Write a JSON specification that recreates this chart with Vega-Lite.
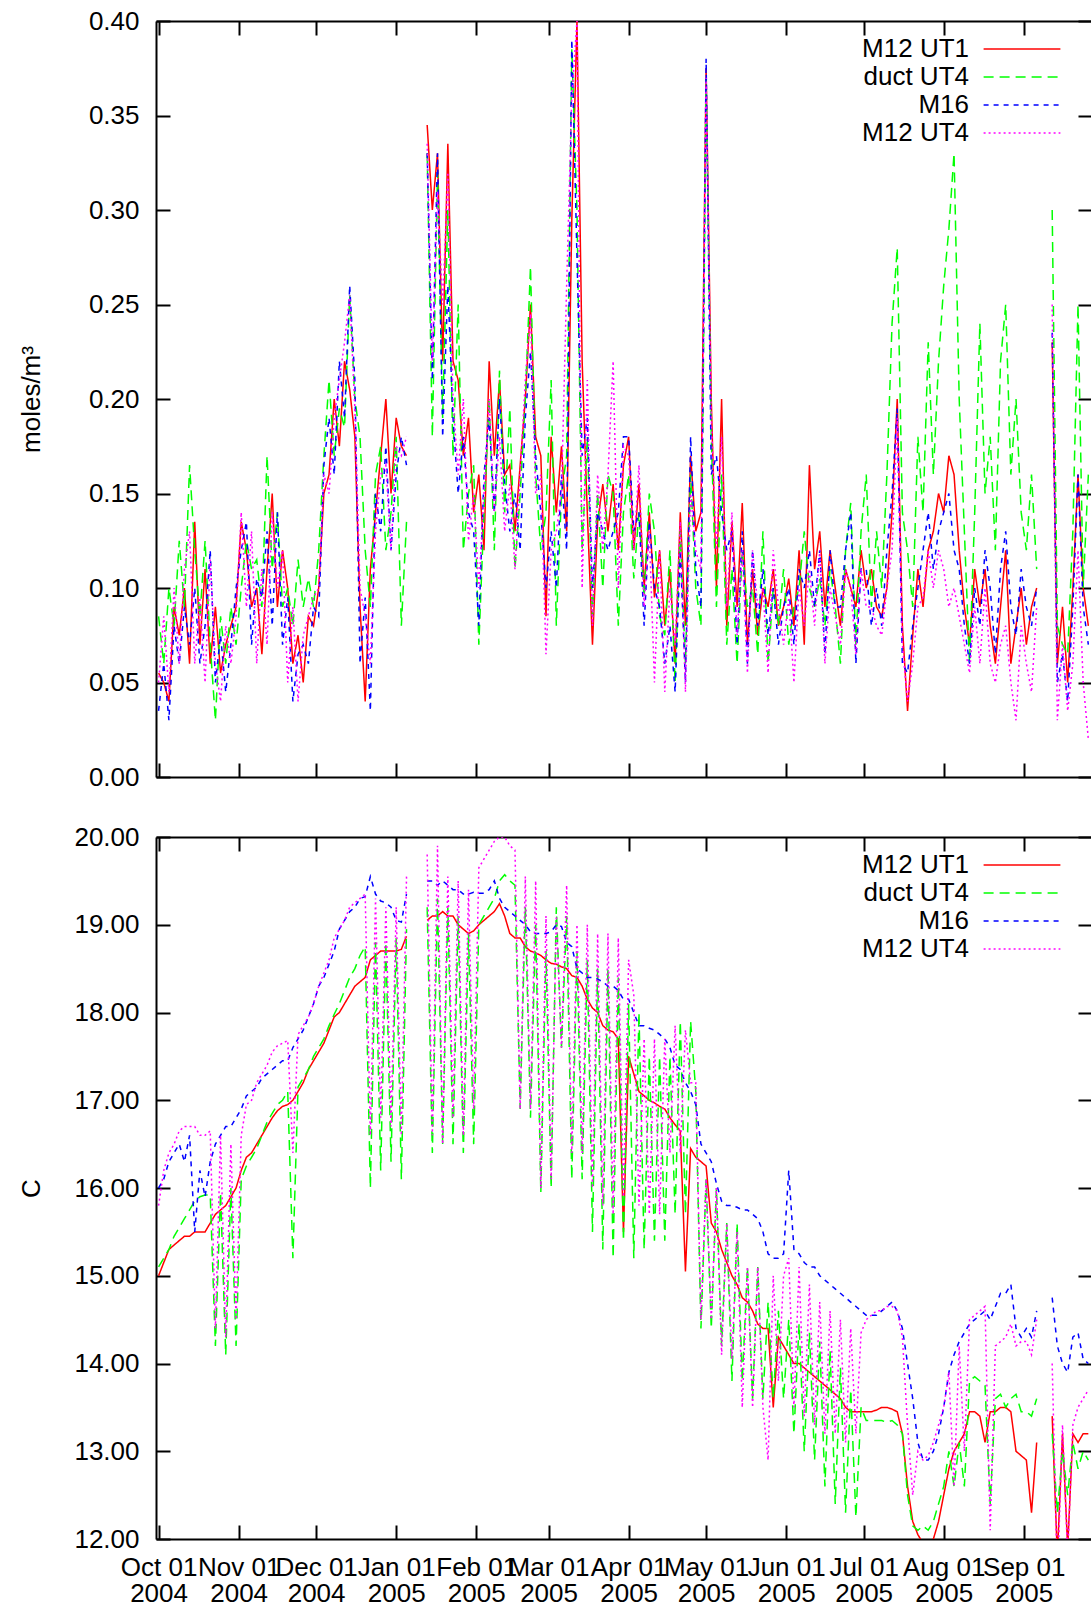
{
  "$schema": "https://vega.github.io/schema/vega-lite/v6.json",
  "padding": {"left": 18, "top": 8, "right": 0, "bottom": 0},
  "spacing": 34,
  "config": {
    "font": "Liberation Sans",
    "view": {"stroke": null},
    "axis": {"labelFont": "Liberation Sans", "labelFontSize": 26, "labelColor": "#000", "titleFont": "Liberation Sans", "titleFontSize": 26, "titleFontWeight": "normal", "titleColor": "#000", "domainColor": "#000", "domainWidth": 2, "tickColor": "#000", "tickWidth": 2, "tickSize": -14, "grid": false, "labelOverlap": false, "labelBound": false, "labelFlush": false},
    "legend": {"labelFont": "Liberation Sans", "labelFontSize": 26, "labelColor": "#000", "labelLimit": 0}
  },
  "datasets": {
    "top": [
      {"d":"2004-10-01","r":0.055,"g":0.085,"b":0.035,"m":0.05},
      {"d":"2004-10-03","r":0.05,"g":0.06,"b":0.06,"m":0.085},
      {"d":"2004-10-05","r":0.04,"g":0.1,"b":0.03,"m":0.045},
      {"d":"2004-10-07","r":0.09,"g":0.08,"b":0.08,"m":0.1},
      {"d":"2004-10-09","r":0.075,"g":0.125,"b":0.06,"m":0.06},
      {"d":"2004-10-11","r":0.1,"g":0.09,"b":0.09,"m":0.11},
      {"d":"2004-10-13","r":0.06,"g":0.165,"b":0.07,"m":0.13},
      {"d":"2004-10-15","r":0.135,"g":0.12,"b":0.1,"m":0.06},
      {"d":"2004-10-17","r":0.07,"g":0.085,"b":0.06,"m":0.095},
      {"d":"2004-10-19","r":0.11,"g":0.125,"b":0.08,"m":0.05},
      {"d":"2004-10-21","r":0.06,"g":0.07,"b":0.12,"m":0.115},
      {"d":"2004-10-23","r":0.09,"g":0.03,"b":0.05,"m":0.06},
      {"d":"2004-10-25","r":0.055,"g":0.085,"b":0.075,"m":0.04},
      {"d":"2004-10-27","r":0.07,"g":0.06,"b":0.045,"m":0.08},
      {"d":"2004-10-29","r":0.08,"g":0.09,"b":0.07,"m":0.06},
      {"d":"2004-10-31","r":0.09,"g":0.07,"b":0.1,"m":0.085},
      {"d":"2004-11-02","r":0.135,"g":0.1,"b":0.12,"m":0.14},
      {"d":"2004-11-04","r":0.12,"g":0.125,"b":0.135,"m":0.09},
      {"d":"2004-11-06","r":0.09,"g":0.11,"b":0.07,"m":0.13},
      {"d":"2004-11-08","r":0.1,"g":0.115,"b":0.105,"m":0.06},
      {"d":"2004-11-10","r":0.065,"g":0.09,"b":0.095,"m":0.11},
      {"d":"2004-11-12","r":0.11,"g":0.17,"b":0.13,"m":0.07},
      {"d":"2004-11-14","r":0.15,"g":0.11,"b":0.08,"m":0.14},
      {"d":"2004-11-16","r":0.09,"g":0.14,"b":0.14,"m":0.1},
      {"d":"2004-11-18","r":0.12,"g":0.09,"b":0.07,"m":0.12},
      {"d":"2004-11-20","r":0.1,"g":0.1,"b":0.095,"m":0.05},
      {"d":"2004-11-22","r":0.06,"g":0.08,"b":0.04,"m":0.09},
      {"d":"2004-11-24","r":0.075,"g":0.115,"b":0.065,"m":0.04},
      {"d":"2004-11-26","r":0.05,"g":0.09,"b":0.07,"m":0.075},
      {"d":"2004-11-28","r":0.085,"g":0.105,"b":0.06,"m":0.085},
      {"d":"2004-11-30","r":0.08,"g":0.09,"b":0.09,"m":0.095},
      {"d":"2004-12-02","r":0.1,"g":0.12,"b":0.085,"m":0.1},
      {"d":"2004-12-04","r":0.15,"g":0.17,"b":0.165,"m":0.16},
      {"d":"2004-12-06","r":0.16,"g":0.21,"b":0.19,"m":0.15},
      {"d":"2004-12-08","r":0.2,"g":0.17,"b":0.16,"m":0.19},
      {"d":"2004-12-10","r":0.175,"g":0.195,"b":0.22,"m":0.21},
      {"d":"2004-12-12","r":0.22,"g":0.185,"b":0.19,"m":0.23},
      {"d":"2004-12-14","r":0.205,"g":0.255,"b":0.26,"m":0.255},
      {"d":"2004-12-16","r":0.18,"g":0.2,"b":0.21,"m":0.195},
      {"d":"2004-12-18","r":0.09,"g":0.18,"b":0.06,"m":0.1},
      {"d":"2004-12-20","r":0.04,"g":0.12,"b":0.095,"m":0.085},
      {"d":"2004-12-22","r":0.11,"g":0.09,"b":0.035,"m":0.06},
      {"d":"2004-12-24","r":0.14,"g":0.16,"b":0.15,"m":0.13},
      {"d":"2004-12-26","r":0.17,"g":0.175,"b":0.13,"m":0.16},
      {"d":"2004-12-28","r":0.2,"g":0.12,"b":0.175,"m":0.165},
      {"d":"2004-12-30","r":0.15,"g":0.14,"b":0.12,"m":0.12},
      {"d":"2005-01-01","r":0.19,"g":0.18,"b":0.16,"m":0.175},
      {"d":"2005-01-03","r":0.175,"g":0.08,"b":0.18,"m":0.17},
      {"d":"2005-01-05","r":0.17,"g":0.135,"b":0.165,"m":0.18},
      {"d":"2005-01-07","r":null,"g":null,"b":null,"m":null},
      {"d":"2005-01-09","r":null,"g":null,"b":null,"m":null},
      {"d":"2005-01-11","r":null,"g":null,"b":null,"m":null},
      {"d":"2005-01-13","r":0.345,"g":0.33,"b":0.33,"m":0.335},
      {"d":"2005-01-15","r":0.3,"g":0.18,"b":0.21,"m":0.22},
      {"d":"2005-01-17","r":0.33,"g":0.32,"b":0.33,"m":0.31},
      {"d":"2005-01-19","r":0.22,"g":0.19,"b":0.18,"m":0.25},
      {"d":"2005-01-21","r":0.335,"g":0.3,"b":0.26,"m":0.32},
      {"d":"2005-01-23","r":0.22,"g":0.17,"b":0.19,"m":0.2},
      {"d":"2005-01-25","r":0.21,"g":0.25,"b":0.15,"m":0.16},
      {"d":"2005-01-27","r":0.17,"g":0.12,"b":0.18,"m":0.2},
      {"d":"2005-01-29","r":0.19,"g":0.15,"b":0.14,"m":0.125},
      {"d":"2005-01-31","r":0.14,"g":0.165,"b":0.13,"m":0.15},
      {"d":"2005-02-02","r":0.16,"g":0.07,"b":0.08,"m":0.1},
      {"d":"2005-02-04","r":0.12,"g":0.14,"b":0.16,"m":0.15},
      {"d":"2005-02-06","r":0.22,"g":0.2,"b":0.19,"m":0.2},
      {"d":"2005-02-08","r":0.17,"g":0.12,"b":0.14,"m":0.14},
      {"d":"2005-02-10","r":0.21,"g":0.215,"b":0.2,"m":0.18},
      {"d":"2005-02-12","r":0.16,"g":0.14,"b":0.155,"m":0.13},
      {"d":"2005-02-14","r":0.165,"g":0.195,"b":0.13,"m":0.155},
      {"d":"2005-02-16","r":0.13,"g":0.11,"b":0.15,"m":0.11},
      {"d":"2005-02-18","r":0.165,"g":0.15,"b":0.12,"m":0.16},
      {"d":"2005-02-20","r":0.2,"g":0.2,"b":0.19,"m":0.21},
      {"d":"2005-02-22","r":0.25,"g":0.27,"b":0.225,"m":0.245},
      {"d":"2005-02-24","r":0.18,"g":0.16,"b":0.17,"m":0.15},
      {"d":"2005-02-26","r":0.17,"g":0.12,"b":0.14,"m":0.16},
      {"d":"2005-02-28","r":0.085,"g":0.14,"b":0.1,"m":0.065},
      {"d":"2005-03-02","r":0.18,"g":0.21,"b":0.13,"m":0.12},
      {"d":"2005-03-04","r":0.14,"g":0.08,"b":0.1,"m":0.13},
      {"d":"2005-03-06","r":0.175,"g":0.15,"b":0.16,"m":0.15},
      {"d":"2005-03-08","r":0.13,"g":0.17,"b":0.12,"m":0.26},
      {"d":"2005-03-10","r":0.295,"g":0.385,"b":0.39,"m":0.36},
      {"d":"2005-03-12","r":0.4,"g":0.3,"b":0.275,"m":0.4},
      {"d":"2005-03-14","r":0.22,"g":0.12,"b":0.17,"m":0.1},
      {"d":"2005-03-16","r":0.14,"g":0.18,"b":0.19,"m":0.21},
      {"d":"2005-03-18","r":0.07,"g":0.085,"b":0.1,"m":0.08},
      {"d":"2005-03-20","r":0.135,"g":0.15,"b":0.14,"m":0.16},
      {"d":"2005-03-22","r":0.155,"g":0.1,"b":0.13,"m":0.12},
      {"d":"2005-03-24","r":0.13,"g":0.16,"b":0.12,"m":0.16},
      {"d":"2005-03-26","r":0.155,"g":0.15,"b":0.13,"m":0.22},
      {"d":"2005-03-28","r":0.12,"g":0.08,"b":0.14,"m":0.1},
      {"d":"2005-03-30","r":0.165,"g":0.14,"b":0.18,"m":0.175},
      {"d":"2005-04-01","r":0.18,"g":0.16,"b":0.18,"m":0.17},
      {"d":"2005-04-03","r":0.12,"g":0.105,"b":0.13,"m":0.12},
      {"d":"2005-04-05","r":0.155,"g":0.14,"b":0.14,"m":0.165},
      {"d":"2005-04-07","r":0.1,"g":0.095,"b":0.08,"m":0.09},
      {"d":"2005-04-09","r":0.14,"g":0.15,"b":0.135,"m":0.13},
      {"d":"2005-04-11","r":0.095,"g":0.13,"b":0.1,"m":0.05},
      {"d":"2005-04-13","r":0.12,"g":0.085,"b":0.09,"m":0.12},
      {"d":"2005-04-15","r":0.08,"g":0.075,"b":0.06,"m":0.045},
      {"d":"2005-04-17","r":0.11,"g":0.12,"b":0.08,"m":0.1},
      {"d":"2005-04-19","r":0.06,"g":0.05,"b":0.045,"m":0.07},
      {"d":"2005-04-21","r":0.14,"g":0.13,"b":0.12,"m":0.135},
      {"d":"2005-04-23","r":0.08,"g":0.06,"b":0.05,"m":0.045},
      {"d":"2005-04-25","r":0.17,"g":0.16,"b":0.18,"m":0.15},
      {"d":"2005-04-27","r":0.13,"g":0.1,"b":0.11,"m":0.12},
      {"d":"2005-04-29","r":0.14,"g":0.08,"b":0.09,"m":0.11},
      {"d":"2005-05-01","r":0.375,"g":0.37,"b":0.38,"m":0.37},
      {"d":"2005-05-03","r":0.2,"g":0.18,"b":0.16,"m":0.19},
      {"d":"2005-05-05","r":0.1,"g":0.09,"b":0.17,"m":0.12},
      {"d":"2005-05-07","r":0.2,"g":0.16,"b":0.14,"m":0.18},
      {"d":"2005-05-09","r":0.08,"g":0.07,"b":0.12,"m":0.09},
      {"d":"2005-05-11","r":0.135,"g":0.11,"b":0.13,"m":0.14},
      {"d":"2005-05-13","r":0.09,"g":0.06,"b":0.07,"m":0.075},
      {"d":"2005-05-15","r":0.145,"g":0.12,"b":0.13,"m":0.12},
      {"d":"2005-05-17","r":0.07,"g":0.09,"b":0.06,"m":0.055},
      {"d":"2005-05-19","r":0.11,"g":0.1,"b":0.12,"m":0.12},
      {"d":"2005-05-21","r":0.075,"g":0.065,"b":0.08,"m":0.09},
      {"d":"2005-05-23","r":0.1,"g":0.13,"b":0.11,"m":0.1},
      {"d":"2005-05-25","r":0.09,"g":0.06,"b":0.075,"m":0.055},
      {"d":"2005-05-27","r":0.11,"g":0.1,"b":0.1,"m":0.12},
      {"d":"2005-05-29","r":0.08,"g":0.08,"b":0.07,"m":0.09},
      {"d":"2005-05-31","r":0.09,"g":0.11,"b":0.09,"m":0.07},
      {"d":"2005-06-02","r":0.105,"g":0.07,"b":0.1,"m":0.095},
      {"d":"2005-06-04","r":0.08,"g":0.09,"b":0.07,"m":0.05},
      {"d":"2005-06-06","r":0.12,"g":0.1,"b":0.11,"m":0.1},
      {"d":"2005-06-08","r":0.07,"g":0.13,"b":0.1,"m":0.08},
      {"d":"2005-06-10","r":0.165,"g":0.1,"b":0.12,"m":0.11},
      {"d":"2005-06-12","r":0.11,"g":0.09,"b":0.09,"m":0.08},
      {"d":"2005-06-14","r":0.13,"g":0.105,"b":0.12,"m":0.12},
      {"d":"2005-06-16","r":0.09,"g":0.08,"b":0.065,"m":0.06},
      {"d":"2005-06-18","r":0.12,"g":0.11,"b":0.12,"m":0.1},
      {"d":"2005-06-20","r":0.1,"g":0.09,"b":0.09,"m":0.085},
      {"d":"2005-06-22","r":0.08,"g":0.06,"b":0.09,"m":0.07},
      {"d":"2005-06-24","r":0.11,"g":0.12,"b":0.12,"m":0.11},
      {"d":"2005-06-26","r":0.1,"g":0.145,"b":0.14,"m":0.1},
      {"d":"2005-06-28","r":0.09,"g":0.07,"b":0.06,"m":0.065},
      {"d":"2005-06-30","r":0.12,"g":0.13,"b":0.11,"m":0.11},
      {"d":"2005-07-02","r":0.1,"g":0.16,"b":0.11,"m":0.09},
      {"d":"2005-07-04","r":0.11,"g":0.09,"b":0.08,"m":0.09},
      {"d":"2005-07-06","r":0.09,"g":0.13,"b":0.1,"m":0.08},
      {"d":"2005-07-08","r":0.085,"g":0.1,"b":0.08,"m":0.075},
      {"d":"2005-07-10","r":0.1,"g":0.16,"b":0.12,"m":0.1},
      {"d":"2005-07-12","r":0.14,"g":0.24,"b":0.15,"m":0.12},
      {"d":"2005-07-14","r":0.2,"g":0.28,"b":0.195,"m":0.19},
      {"d":"2005-07-16","r":0.08,"g":0.14,"b":0.06,"m":0.07},
      {"d":"2005-07-18","r":0.035,"g":0.12,"b":0.055,"m":0.04},
      {"d":"2005-07-20","r":0.075,"g":0.09,"b":0.08,"m":0.06},
      {"d":"2005-07-22","r":0.11,"g":0.18,"b":0.1,"m":0.09},
      {"d":"2005-07-24","r":0.09,"g":0.14,"b":0.12,"m":0.095},
      {"d":"2005-07-26","r":0.12,"g":0.23,"b":0.14,"m":0.12},
      {"d":"2005-07-28","r":0.13,"g":0.16,"b":0.11,"m":0.1},
      {"d":"2005-07-30","r":0.15,"g":0.22,"b":0.13,"m":0.12},
      {"d":"2005-08-01","r":0.14,"g":0.26,"b":0.14,"m":0.11},
      {"d":"2005-08-03","r":0.17,"g":0.29,"b":0.15,"m":0.09},
      {"d":"2005-08-05","r":0.16,"g":0.33,"b":0.12,"m":0.1},
      {"d":"2005-08-07","r":0.12,"g":0.2,"b":0.11,"m":0.085},
      {"d":"2005-08-09","r":0.09,"g":0.13,"b":0.08,"m":0.07},
      {"d":"2005-08-11","r":0.07,"g":0.06,"b":0.06,"m":0.055},
      {"d":"2005-08-13","r":0.11,"g":0.14,"b":0.1,"m":0.09},
      {"d":"2005-08-15","r":0.09,"g":0.24,"b":0.08,"m":0.06},
      {"d":"2005-08-17","r":0.11,"g":0.15,"b":0.12,"m":0.1},
      {"d":"2005-08-19","r":0.08,"g":0.18,"b":0.1,"m":0.06},
      {"d":"2005-08-21","r":0.06,"g":0.12,"b":0.065,"m":0.05},
      {"d":"2005-08-23","r":0.09,"g":0.22,"b":0.11,"m":0.07},
      {"d":"2005-08-25","r":0.12,"g":0.25,"b":0.13,"m":0.08},
      {"d":"2005-08-27","r":0.06,"g":0.16,"b":0.09,"m":0.05},
      {"d":"2005-08-29","r":0.08,"g":0.2,"b":0.075,"m":0.03},
      {"d":"2005-08-31","r":0.1,"g":0.14,"b":0.11,"m":0.08},
      {"d":"2005-09-02","r":0.07,"g":0.12,"b":0.09,"m":0.06},
      {"d":"2005-09-04","r":0.09,"g":0.16,"b":0.08,"m":0.045},
      {"d":"2005-09-06","r":0.1,"g":0.11,"b":0.1,"m":0.09},
      {"d":"2005-09-08","r":null,"g":null,"b":null,"m":null},
      {"d":"2005-09-10","r":null,"g":null,"b":null,"m":null},
      {"d":"2005-09-12","r":0.23,"g":0.3,"b":0.235,"m":0.25},
      {"d":"2005-09-14","r":0.06,"g":0.08,"b":0.05,"m":0.03},
      {"d":"2005-09-16","r":0.09,"g":0.07,"b":0.065,"m":0.07},
      {"d":"2005-09-18","r":0.05,"g":0.065,"b":0.04,"m":0.035},
      {"d":"2005-09-20","r":0.1,"g":0.13,"b":0.09,"m":0.06},
      {"d":"2005-09-22","r":0.16,"g":0.25,"b":0.16,"m":0.12},
      {"d":"2005-09-24","r":0.1,"g":0.1,"b":0.09,"m":0.05},
      {"d":"2005-09-26","r":0.08,"g":0.16,"b":0.07,"m":0.02}
    ],
    "bot": [
      {"d":"2004-10-01","r":15.0,"g":15.1,"b":16.0,"m":15.8},
      {"d":"2004-10-03","r":15.15,"g":15.2,"b":16.1,"m":16.2},
      {"d":"2004-10-05","r":15.3,"g":15.3,"b":16.3,"m":16.4},
      {"d":"2004-10-07","r":15.35,"g":15.45,"b":16.4,"m":16.5},
      {"d":"2004-10-09","r":15.4,"g":15.55,"b":16.5,"m":16.65},
      {"d":"2004-10-11","r":15.45,"g":15.65,"b":16.3,"m":16.7},
      {"d":"2004-10-13","r":15.45,"g":15.75,"b":16.6,"m":16.7},
      {"d":"2004-10-15","r":15.5,"g":15.85,"b":15.5,"m":16.7},
      {"d":"2004-10-17","r":15.5,"g":15.9,"b":16.2,"m":16.6},
      {"d":"2004-10-19","r":15.5,"g":15.92,"b":15.9,"m":16.6},
      {"d":"2004-10-21","r":15.6,"g":15.92,"b":16.3,"m":16.65},
      {"d":"2004-10-23","r":15.7,"g":14.2,"b":16.5,"m":14.4},
      {"d":"2004-10-25","r":15.75,"g":15.95,"b":16.6,"m":16.6},
      {"d":"2004-10-27","r":15.8,"g":14.1,"b":16.7,"m":14.3},
      {"d":"2004-10-29","r":15.9,"g":16.0,"b":16.7,"m":16.5},
      {"d":"2004-10-31","r":16.0,"g":14.2,"b":16.8,"m":14.5},
      {"d":"2004-11-02","r":16.2,"g":16.1,"b":16.9,"m":16.6},
      {"d":"2004-11-04","r":16.35,"g":16.25,"b":17.05,"m":16.95},
      {"d":"2004-11-06","r":16.4,"g":16.35,"b":17.1,"m":17.0},
      {"d":"2004-11-08","r":16.5,"g":16.45,"b":17.15,"m":17.2},
      {"d":"2004-11-10","r":16.6,"g":16.6,"b":17.25,"m":17.3},
      {"d":"2004-11-12","r":16.7,"g":16.75,"b":17.3,"m":17.4},
      {"d":"2004-11-14","r":16.8,"g":16.85,"b":17.35,"m":17.55},
      {"d":"2004-11-16","r":16.88,"g":16.95,"b":17.4,"m":17.62},
      {"d":"2004-11-18","r":16.93,"g":17.0,"b":17.45,"m":17.65},
      {"d":"2004-11-20","r":16.95,"g":17.1,"b":17.45,"m":17.68},
      {"d":"2004-11-22","r":17.0,"g":15.2,"b":17.6,"m":16.4},
      {"d":"2004-11-24","r":17.1,"g":17.15,"b":17.7,"m":17.75},
      {"d":"2004-11-26","r":17.2,"g":17.25,"b":17.8,"m":17.85},
      {"d":"2004-11-28","r":17.35,"g":17.35,"b":17.95,"m":17.95},
      {"d":"2004-11-30","r":17.45,"g":17.5,"b":18.1,"m":18.1},
      {"d":"2004-12-02","r":17.55,"g":17.6,"b":18.3,"m":18.3},
      {"d":"2004-12-04","r":17.65,"g":17.7,"b":18.4,"m":18.45},
      {"d":"2004-12-06","r":17.8,"g":17.85,"b":18.55,"m":18.6},
      {"d":"2004-12-08","r":17.95,"g":17.98,"b":18.7,"m":18.85},
      {"d":"2004-12-10","r":18.0,"g":18.1,"b":18.95,"m":18.95},
      {"d":"2004-12-12","r":18.1,"g":18.25,"b":19.05,"m":19.05},
      {"d":"2004-12-14","r":18.2,"g":18.4,"b":19.15,"m":19.2},
      {"d":"2004-12-16","r":18.3,"g":18.5,"b":19.2,"m":19.25},
      {"d":"2004-12-18","r":18.35,"g":18.65,"b":19.3,"m":19.3},
      {"d":"2004-12-20","r":18.4,"g":18.75,"b":19.32,"m":19.35},
      {"d":"2004-12-22","r":18.6,"g":16.0,"b":19.55,"m":16.6},
      {"d":"2004-12-24","r":18.65,"g":18.8,"b":19.35,"m":19.3},
      {"d":"2004-12-26","r":18.7,"g":16.2,"b":19.27,"m":16.8},
      {"d":"2004-12-28","r":18.7,"g":18.8,"b":19.25,"m":19.2},
      {"d":"2004-12-30","r":18.7,"g":16.3,"b":19.2,"m":16.7},
      {"d":"2005-01-01","r":18.7,"g":18.85,"b":19.05,"m":19.2},
      {"d":"2005-01-03","r":18.72,"g":16.1,"b":19.03,"m":16.6},
      {"d":"2005-01-05","r":18.87,"g":18.95,"b":19.35,"m":19.55},
      {"d":"2005-01-07","r":null,"g":null,"b":null,"m":null},
      {"d":"2005-01-09","r":null,"g":null,"b":null,"m":null},
      {"d":"2005-01-11","r":null,"g":null,"b":null,"m":null},
      {"d":"2005-01-13","r":19.05,"g":19.2,"b":19.5,"m":19.8},
      {"d":"2005-01-15","r":19.1,"g":16.4,"b":19.5,"m":16.6},
      {"d":"2005-01-17","r":19.1,"g":19.3,"b":19.45,"m":19.9},
      {"d":"2005-01-19","r":19.15,"g":16.5,"b":19.5,"m":16.5},
      {"d":"2005-01-21","r":19.1,"g":19.2,"b":19.45,"m":19.55},
      {"d":"2005-01-23","r":19.1,"g":16.5,"b":19.4,"m":16.8},
      {"d":"2005-01-25","r":19.0,"g":19.1,"b":19.4,"m":19.5},
      {"d":"2005-01-27","r":18.95,"g":16.4,"b":19.35,"m":16.6},
      {"d":"2005-01-29","r":18.9,"g":18.9,"b":19.35,"m":19.4},
      {"d":"2005-01-31","r":18.93,"g":16.5,"b":19.37,"m":16.9},
      {"d":"2005-02-02","r":19.0,"g":19.0,"b":19.36,"m":19.65},
      {"d":"2005-02-04","r":19.05,"g":19.1,"b":19.36,"m":19.75},
      {"d":"2005-02-06","r":19.1,"g":19.2,"b":19.4,"m":19.85},
      {"d":"2005-02-08","r":19.15,"g":19.3,"b":19.5,"m":19.95},
      {"d":"2005-02-10","r":19.24,"g":19.5,"b":19.3,"m":20.0},
      {"d":"2005-02-12","r":19.1,"g":19.57,"b":19.2,"m":20.0},
      {"d":"2005-02-14","r":18.9,"g":19.5,"b":19.15,"m":19.9},
      {"d":"2005-02-16","r":18.85,"g":19.45,"b":19.1,"m":19.85},
      {"d":"2005-02-18","r":18.85,"g":16.9,"b":19.05,"m":16.9},
      {"d":"2005-02-20","r":18.75,"g":19.2,"b":19.0,"m":19.55},
      {"d":"2005-02-22","r":18.7,"g":16.8,"b":18.92,"m":16.9},
      {"d":"2005-02-24","r":18.68,"g":19.0,"b":18.9,"m":19.5},
      {"d":"2005-02-26","r":18.65,"g":15.95,"b":18.9,"m":16.0},
      {"d":"2005-02-28","r":18.6,"g":18.7,"b":18.9,"m":19.1},
      {"d":"2005-03-02","r":18.56,"g":16.0,"b":18.92,"m":16.1},
      {"d":"2005-03-04","r":18.55,"g":19.2,"b":19.0,"m":19.1},
      {"d":"2005-03-06","r":18.52,"g":17.6,"b":18.98,"m":17.6},
      {"d":"2005-03-08","r":18.5,"g":19.1,"b":18.8,"m":19.45},
      {"d":"2005-03-10","r":18.42,"g":16.1,"b":18.75,"m":16.4},
      {"d":"2005-03-12","r":18.4,"g":18.7,"b":18.5,"m":19.0},
      {"d":"2005-03-14","r":18.3,"g":16.1,"b":18.45,"m":16.4},
      {"d":"2005-03-16","r":18.15,"g":18.6,"b":18.4,"m":19.0},
      {"d":"2005-03-18","r":18.05,"g":15.5,"b":18.4,"m":16.0},
      {"d":"2005-03-20","r":18.0,"g":18.5,"b":18.38,"m":18.9},
      {"d":"2005-03-22","r":17.85,"g":15.3,"b":18.35,"m":15.8},
      {"d":"2005-03-24","r":17.8,"g":18.5,"b":18.3,"m":18.9},
      {"d":"2005-03-26","r":17.78,"g":15.2,"b":18.3,"m":15.7},
      {"d":"2005-03-28","r":17.7,"g":18.4,"b":18.25,"m":18.85},
      {"d":"2005-03-30","r":15.5,"g":15.4,"b":18.15,"m":15.9},
      {"d":"2005-04-01","r":17.5,"g":18.1,"b":18.15,"m":18.6},
      {"d":"2005-04-03","r":17.3,"g":15.2,"b":18.0,"m":18.2},
      {"d":"2005-04-05","r":17.1,"g":18.0,"b":17.85,"m":15.8},
      {"d":"2005-04-07","r":17.05,"g":15.3,"b":17.85,"m":17.7},
      {"d":"2005-04-09","r":17.0,"g":17.5,"b":17.82,"m":15.7},
      {"d":"2005-04-11","r":16.97,"g":15.4,"b":17.8,"m":17.7},
      {"d":"2005-04-13","r":16.93,"g":17.5,"b":17.75,"m":15.7},
      {"d":"2005-04-15","r":16.9,"g":15.4,"b":17.7,"m":17.7},
      {"d":"2005-04-17","r":16.8,"g":17.5,"b":17.6,"m":16.4},
      {"d":"2005-04-19","r":16.72,"g":15.7,"b":17.4,"m":17.85},
      {"d":"2005-04-21","r":16.65,"g":17.9,"b":17.35,"m":16.4},
      {"d":"2005-04-23","r":15.05,"g":15.7,"b":17.2,"m":17.8},
      {"d":"2005-04-25","r":16.45,"g":17.9,"b":17.1,"m":17.2},
      {"d":"2005-04-27","r":16.35,"g":17.1,"b":16.95,"m":17.2},
      {"d":"2005-04-29","r":16.3,"g":14.4,"b":16.5,"m":14.5},
      {"d":"2005-05-01","r":16.25,"g":16.1,"b":16.4,"m":16.1},
      {"d":"2005-05-03","r":15.6,"g":14.4,"b":16.3,"m":14.5},
      {"d":"2005-05-05","r":15.5,"g":16.0,"b":16.05,"m":16.0},
      {"d":"2005-05-07","r":15.3,"g":14.2,"b":15.85,"m":14.1},
      {"d":"2005-05-09","r":15.15,"g":15.6,"b":15.8,"m":15.6},
      {"d":"2005-05-11","r":15.0,"g":13.8,"b":15.8,"m":14.05},
      {"d":"2005-05-13","r":14.9,"g":15.6,"b":15.78,"m":15.5},
      {"d":"2005-05-15","r":14.75,"g":13.8,"b":15.75,"m":13.5},
      {"d":"2005-05-17","r":14.7,"g":15.1,"b":15.75,"m":15.1},
      {"d":"2005-05-19","r":14.6,"g":13.6,"b":15.7,"m":13.5},
      {"d":"2005-05-21","r":14.45,"g":15.1,"b":15.65,"m":15.1},
      {"d":"2005-05-23","r":14.4,"g":13.6,"b":15.5,"m":13.5},
      {"d":"2005-05-25","r":14.4,"g":14.7,"b":15.25,"m":12.9},
      {"d":"2005-05-27","r":13.5,"g":13.6,"b":15.2,"m":15.0},
      {"d":"2005-05-29","r":14.3,"g":14.6,"b":15.2,"m":13.8},
      {"d":"2005-05-31","r":14.2,"g":13.6,"b":15.25,"m":15.0},
      {"d":"2005-06-02","r":14.1,"g":14.5,"b":16.2,"m":15.2},
      {"d":"2005-06-04","r":14.0,"g":13.2,"b":15.3,"m":13.5},
      {"d":"2005-06-06","r":14.0,"g":14.45,"b":15.25,"m":15.1},
      {"d":"2005-06-08","r":13.95,"g":13.0,"b":15.15,"m":13.4},
      {"d":"2005-06-10","r":13.9,"g":14.35,"b":15.1,"m":14.9},
      {"d":"2005-06-12","r":13.85,"g":12.9,"b":15.1,"m":13.3},
      {"d":"2005-06-14","r":13.8,"g":14.25,"b":15.0,"m":14.7},
      {"d":"2005-06-16","r":13.75,"g":12.6,"b":14.95,"m":13.2},
      {"d":"2005-06-18","r":13.7,"g":14.15,"b":14.9,"m":14.6},
      {"d":"2005-06-20","r":13.65,"g":12.4,"b":14.85,"m":13.2},
      {"d":"2005-06-22","r":13.6,"g":13.95,"b":14.8,"m":14.5},
      {"d":"2005-06-24","r":13.5,"g":12.3,"b":14.75,"m":13.1},
      {"d":"2005-06-26","r":13.45,"g":13.7,"b":14.7,"m":14.4},
      {"d":"2005-06-28","r":13.45,"g":12.25,"b":14.65,"m":13.2},
      {"d":"2005-06-30","r":13.45,"g":13.5,"b":14.6,"m":14.35},
      {"d":"2005-07-02","r":13.45,"g":13.35,"b":14.55,"m":14.5},
      {"d":"2005-07-04","r":13.45,"g":13.35,"b":14.55,"m":14.55},
      {"d":"2005-07-06","r":13.47,"g":13.35,"b":14.55,"m":14.6},
      {"d":"2005-07-08","r":13.5,"g":13.35,"b":14.6,"m":14.6},
      {"d":"2005-07-10","r":13.5,"g":13.33,"b":14.65,"m":14.65},
      {"d":"2005-07-12","r":13.48,"g":13.35,"b":14.7,"m":14.65},
      {"d":"2005-07-14","r":13.45,"g":13.3,"b":14.6,"m":14.6},
      {"d":"2005-07-16","r":13.2,"g":13.2,"b":14.4,"m":14.3},
      {"d":"2005-07-18","r":12.6,"g":12.5,"b":14.0,"m":13.3},
      {"d":"2005-07-20","r":12.2,"g":12.15,"b":13.6,"m":12.5},
      {"d":"2005-07-22","r":12.05,"g":12.1,"b":13.1,"m":13.0},
      {"d":"2005-07-24","r":11.95,"g":12.15,"b":12.9,"m":12.9},
      {"d":"2005-07-26","r":11.9,"g":12.1,"b":12.9,"m":12.95},
      {"d":"2005-07-28","r":12.0,"g":12.2,"b":13.0,"m":13.1},
      {"d":"2005-07-30","r":12.2,"g":12.4,"b":13.2,"m":13.3},
      {"d":"2005-08-01","r":12.5,"g":12.6,"b":13.5,"m":13.5},
      {"d":"2005-08-03","r":12.8,"g":13.0,"b":13.9,"m":13.9},
      {"d":"2005-08-05","r":13.0,"g":12.6,"b":14.1,"m":12.6},
      {"d":"2005-08-07","r":13.1,"g":13.1,"b":14.25,"m":14.2},
      {"d":"2005-08-09","r":13.2,"g":12.6,"b":14.35,"m":13.0},
      {"d":"2005-08-11","r":13.45,"g":13.8,"b":14.45,"m":14.5},
      {"d":"2005-08-13","r":13.45,"g":13.85,"b":14.5,"m":14.55},
      {"d":"2005-08-15","r":13.4,"g":13.8,"b":14.55,"m":14.6},
      {"d":"2005-08-17","r":13.1,"g":13.75,"b":14.6,"m":14.65},
      {"d":"2005-08-19","r":13.45,"g":12.4,"b":14.5,"m":12.1},
      {"d":"2005-08-21","r":13.45,"g":13.6,"b":14.65,"m":14.2},
      {"d":"2005-08-23","r":13.5,"g":13.65,"b":14.8,"m":14.25},
      {"d":"2005-08-25","r":13.5,"g":13.5,"b":14.8,"m":14.3},
      {"d":"2005-08-27","r":13.45,"g":13.6,"b":14.9,"m":14.45},
      {"d":"2005-08-29","r":13.0,"g":13.65,"b":14.4,"m":14.2},
      {"d":"2005-08-31","r":12.95,"g":13.45,"b":14.3,"m":14.25},
      {"d":"2005-09-02","r":12.9,"g":13.45,"b":14.4,"m":14.25},
      {"d":"2005-09-04","r":12.3,"g":13.4,"b":14.3,"m":14.1},
      {"d":"2005-09-06","r":13.1,"g":13.6,"b":14.6,"m":14.5},
      {"d":"2005-09-08","r":null,"g":null,"b":null,"m":null},
      {"d":"2005-09-10","r":null,"g":null,"b":null,"m":null},
      {"d":"2005-09-12","r":13.4,"g":13.2,"b":14.75,"m":14.0},
      {"d":"2005-09-14","r":11.8,"g":12.3,"b":14.2,"m":11.5},
      {"d":"2005-09-16","r":13.2,"g":13.0,"b":14.0,"m":13.3},
      {"d":"2005-09-18","r":11.9,"g":12.5,"b":13.9,"m":11.8},
      {"d":"2005-09-20","r":13.2,"g":13.1,"b":14.3,"m":13.3},
      {"d":"2005-09-22","r":13.1,"g":12.8,"b":14.35,"m":13.5},
      {"d":"2005-09-24","r":13.2,"g":13.0,"b":14.05,"m":13.6},
      {"d":"2005-09-26","r":13.2,"g":12.9,"b":14.0,"m":13.7}
    ]
  },
  "vconcat": [
    {
      "width": 936,
      "height": 756,
      "data": {"name": "top"},
      "transform": [{"fold": ["r", "g", "b", "m"], "as": ["k", "v"]}],
      "layer": [
        {
          "mark": {"type": "line", "strokeWidth": 1.5, "clip": true, "invalid": "break-paths-show-domains"},
          "encoding": {
            "x": {"field": "d", "type": "temporal", "scale": {"type": "utc", "domain": [{"year": 2004, "month": 9, "date": 30, "utc": true}, {"year": 2005, "month": 9, "date": 27, "hours": 10, "utc": true}]}, "axis": {"orient": "bottom", "labels": false, "title": null, "tickCount": {"interval": "month", "step": 1}}},
            "y": {"field": "v", "type": "quantitative", "scale": {"domain": [0, 0.4], "nice": false, "zero": false}, "axis": {"orient": "left", "values": [0, 0.05, 0.1, 0.15, 0.2, 0.25, 0.3, 0.35, 0.4], "format": ".2f", "title": "moles/m³", "titleX": -125, "titleBaseline": "middle", "titleAngle": -90, "labelPadding": 31}},
            "color": {"field": "k", "type": "nominal", "scale": {"domain": ["r", "g", "b", "m"], "range": ["#ff0000", "#00ff00", "#0000ff", "#ff00ff"]}, "legend": {"orient": "none", "legendX": 853, "legendY": 15, "title": null, "symbolType": "M-3.2,0H3.2", "symbolSize": 576, "symbolStrokeWidth": 1.5, "labelAlign": "right", "labelOffset": -66, "rowPadding": 2, "padding": 0, "labelExpr": "datum.label == 'r' ? 'M12 UT1' : datum.label == 'g' ? 'duct UT4' : datum.label == 'b' ? 'M16' : 'M12 UT4'"}},
            "strokeDash": {"field": "k", "type": "nominal", "scale": {"domain": ["r", "g", "b", "m"], "range": [[1, 0], [10, 6], [5, 5], [2, 3]]}, "legend": {"orient": "none", "legendX": 853, "legendY": 15, "title": null, "symbolType": "M-3.2,0H3.2", "symbolSize": 576, "symbolStrokeWidth": 1.5, "labelAlign": "right", "labelOffset": -66, "rowPadding": 2, "padding": 0, "labelExpr": "datum.label == 'r' ? 'M12 UT1' : datum.label == 'g' ? 'duct UT4' : datum.label == 'b' ? 'M16' : 'M12 UT4'"}}
          }
        },
        {
          "mark": {"type": "line", "opacity": 0, "invalid": "break-paths-show-domains"},
          "encoding": {
            "x": {"field": "d", "type": "temporal", "axis": {"orient": "top", "labels": false, "title": null, "tickCount": {"interval": "month", "step": 1}}},
            "y": {"field": "v", "type": "quantitative", "axis": {"orient": "right", "labels": false, "domain": false, "title": null, "values": [0, 0.05, 0.1, 0.15, 0.2, 0.25, 0.3, 0.35, 0.4]}},
            "detail": {"field": "k"}
          }
        }
      ],
      "resolve": {"axis": {"x": "independent", "y": "independent"}}
    },
    {
      "width": 936,
      "height": 702,
      "data": {"name": "bot"},
      "transform": [{"fold": ["r", "g", "b", "m"], "as": ["k", "v"]}],
      "layer": [
        {
          "mark": {"type": "line", "strokeWidth": 1.5, "clip": true, "invalid": "break-paths-show-domains"},
          "encoding": {
            "x": {"field": "d", "type": "temporal", "scale": {"type": "utc", "domain": [{"year": 2004, "month": 9, "date": 30, "utc": true}, {"year": 2005, "month": 9, "date": 27, "hours": 10, "utc": true}]}, "axis": {"orient": "bottom", "title": null, "tickCount": {"interval": "month", "step": 1}, "labelExpr": "[utcFormat(datum.value, '%b %d'), utcFormat(datum.value, '%Y')]", "labelLineHeight": 26, "labelPadding": 29}},
            "y": {"field": "v", "type": "quantitative", "scale": {"domain": [12, 20], "nice": false, "zero": false}, "axis": {"orient": "left", "values": [12, 13, 14, 15, 16, 17, 18, 19, 20], "format": ".2f", "title": "C", "titleX": -125, "titleBaseline": "middle", "titleAngle": -90, "labelPadding": 31}},
            "color": {"field": "k", "type": "nominal", "scale": {"domain": ["r", "g", "b", "m"], "range": ["#ff0000", "#00ff00", "#0000ff", "#ff00ff"]}, "legend": {"orient": "none", "legendX": 853, "legendY": 15, "title": null, "symbolType": "M-3.2,0H3.2", "symbolSize": 576, "symbolStrokeWidth": 1.5, "labelAlign": "right", "labelOffset": -66, "rowPadding": 2, "padding": 0, "labelExpr": "datum.label == 'r' ? 'M12 UT1' : datum.label == 'g' ? 'duct UT4' : datum.label == 'b' ? 'M16' : 'M12 UT4'"}},
            "strokeDash": {"field": "k", "type": "nominal", "scale": {"domain": ["r", "g", "b", "m"], "range": [[1, 0], [10, 6], [5, 5], [2, 3]]}, "legend": {"orient": "none", "legendX": 853, "legendY": 15, "title": null, "symbolType": "M-3.2,0H3.2", "symbolSize": 576, "symbolStrokeWidth": 1.5, "labelAlign": "right", "labelOffset": -66, "rowPadding": 2, "padding": 0, "labelExpr": "datum.label == 'r' ? 'M12 UT1' : datum.label == 'g' ? 'duct UT4' : datum.label == 'b' ? 'M16' : 'M12 UT4'"}}
          }
        },
        {
          "mark": {"type": "line", "opacity": 0, "invalid": "break-paths-show-domains"},
          "encoding": {
            "x": {"field": "d", "type": "temporal", "axis": {"orient": "top", "labels": false, "title": null, "tickCount": {"interval": "month", "step": 1}}},
            "y": {"field": "v", "type": "quantitative", "axis": {"orient": "right", "labels": false, "domain": false, "title": null, "values": [12, 13, 14, 15, 16, 17, 18, 19, 20]}},
            "detail": {"field": "k"}
          }
        }
      ],
      "resolve": {"axis": {"x": "independent", "y": "independent"}}
    }
  ],
  "resolve": {"scale": {"x": "independent", "y": "independent", "color": "independent", "strokeDash": "independent"}, "legend": {"color": "independent", "strokeDash": "independent"}}
}
